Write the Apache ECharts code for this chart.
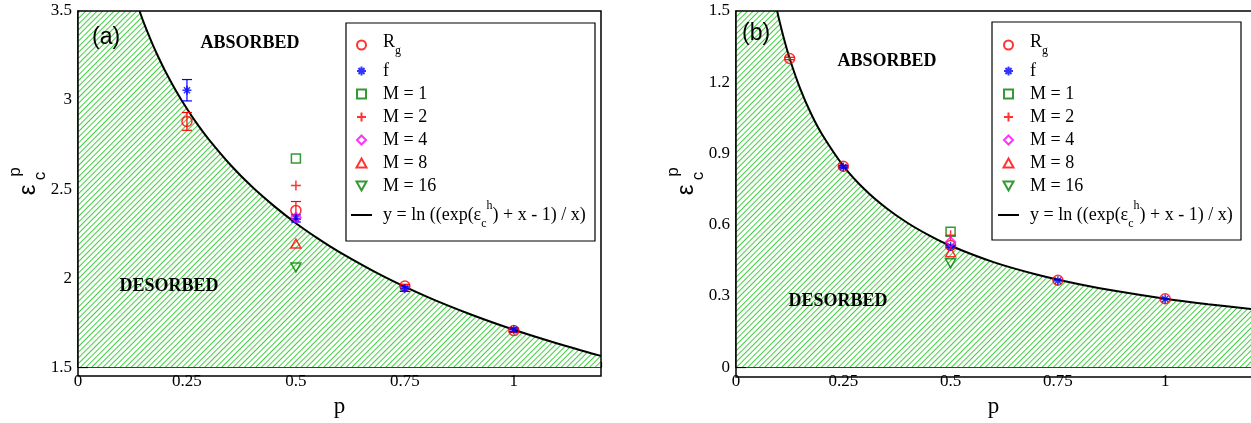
<!DOCTYPE html>
<html>
<head>
<meta charset="utf-8">
<script src="https://cdn.jsdelivr.net/npm/echarts@6/dist/echarts.min.js"></script>
<style>
html,body{margin:0;padding:0;background:#fff;}
#chart{width:1251px;height:423px;}
</style>
</head>
<body>
<div id="chart"></div>
<script>
// ---------- data ----------
const xTicks = [0, 0.25, 0.5, 0.75, 1];
const xRange = [0, 1.2];
const yTicksA = [1.5, 2, 2.5, 3, 3.5];
const yTicksB = [0, 0.3, 0.6, 0.9, 1.2, 1.5];

const seriesNames = ['R_g', 'f', 'M = 1', 'M = 2', 'M = 4', 'M = 8', 'M = 16', 'y = ln ((exp(ε_c^h) + x - 1) / x)'];

// panel (a) boundary curve
const curveA_p = [0.1412, 0.15, 0.16, 0.17, 0.18, 0.2, 0.225, 0.25, 0.275, 0.3, 0.35, 0.4, 0.45, 0.5, 0.55, 0.6, 0.7, 0.8, 0.9, 1.0, 1.1, 1.2];
const curveA_y = [3.500, 3.440, 3.378, 3.319, 3.264, 3.163, 3.051, 2.951, 2.860, 2.779, 2.635, 2.511, 2.404, 2.308, 2.223, 2.146, 2.011, 1.896, 1.797, 1.710, 1.633, 1.563];
// panel (b) boundary curve
const curveB_p = [0.0959, 0.1, 0.11, 0.125, 0.15, 0.175, 0.2, 0.25, 0.3, 0.35, 0.4, 0.45, 0.5, 0.6, 0.7, 0.8, 0.9, 1.0, 1.1, 1.2];
const curveB_y = [1.500, 1.467, 1.395, 1.300, 1.171, 1.067, 0.982, 0.848, 0.748, 0.670, 0.607, 0.555, 0.511, 0.442, 0.390, 0.349, 0.316, 0.288, 0.265, 0.245];

// panel (a) points
const rgA  = [[0.25, 2.88], [0.5, 2.38], [0.75, 1.955], [1.0, 1.705]];
const fA   = [[0.25, 3.055], [0.5, 2.335], [0.75, 1.94], [1.0, 1.71]];
const m1A  = [[0.5, 2.672]];
const m2A  = [[0.5, 2.52]];
const m4A  = [[0.5, 2.34]];
const m8A  = [[0.5, 2.194]];
const m16A = [[0.5, 2.06]];
const rgErrA = [[0.25, 2.83, 2.93], [0.5, 2.33, 2.43], [0.75, 1.945, 1.965], [1.0, 1.695, 1.715]];
const fErrA  = [[0.25, 2.995, 3.115], [0.5, 2.315, 2.355], [0.75, 1.925, 1.955], [1.0, 1.70, 1.72]];

// panel (b) points
const rgB  = [[0.125, 1.30], [0.25, 0.846], [0.5, 0.512], [0.75, 0.366], [1.0, 0.288]];
const fB   = [[0.25, 0.843], [0.5, 0.508], [0.75, 0.364], [1.0, 0.287]];
const m1B  = [[0.5, 0.570]];
const m2B  = [[0.5, 0.555]];
const m4B  = [[0.5, 0.527]];
const m8B  = [[0.5, 0.484]];
const m16B = [[0.5, 0.437]];
const rgErrB = [[0.125, 1.295, 1.305], [0.25, 0.842, 0.850]];
const fErrB  = [[0.25, 0.838, 0.848], [0.5, 0.503, 0.513]];

// ---------- styling ----------
const SERIF = '"Liberation Serif", "Times New Roman", serif';
const SANS = '"Liberation Sans", Arial, sans-serif';
const RED = '#ff0000', BLUE = '#0000ff', GREEN = '#008000', MAG = '#ff00ff';
const HATCH = '#3fd03f';

const SYM = {
  R_g: {symbol: 'circle', color: RED, size: 10},
  f: {symbol: 'path://M5 0L5 10M0 5L10 5M1.6 1.6L8.4 8.4M8.4 1.6L1.6 8.4', color: BLUE, size: 9},
  'M = 1': {symbol: 'path://M0 0L10 0L10 10L0 10Z', color: GREEN, size: 9},
  'M = 2': {symbol: 'path://M5 0L5 10M0 5L10 5', color: RED, size: 10},
  'M = 4': {symbol: 'path://M5 0L10 5L5 10L0 5Z', color: MAG, size: 10},
  'M = 8': {symbol: 'path://M5 0L10 9L0 9Z', color: RED, size: 10},
  'M = 16': {symbol: 'path://M0 0L10 0L5 9Z', color: GREEN, size: 10}
};

function zip(ps, ys) { return ps.map((p, i) => [p, ys[i]]); }

function errItem(params, api) {
  const x = api.value(0);
  const lo = api.coord([x, api.value(1)]);
  const hi = api.coord([x, api.value(2)]);
  const w = 5;
  const style = {stroke: api.visual('color'), lineWidth: 1.2};
  return {type: 'group', children: [
    {type: 'line', shape: {x1: lo[0], y1: lo[1], x2: hi[0], y2: hi[1]}, style},
    {type: 'line', shape: {x1: lo[0] - w, y1: lo[1], x2: lo[0] + w, y2: lo[1]}, style},
    {type: 'line', shape: {x1: hi[0] - w, y1: hi[1], x2: hi[0] + w, y2: hi[1]}, style}
  ]};
}

function panelSeries(k, curveP, curveY, yTop, pts, errRg, errF) {
  const curve = zip(curveP, curveY);
  const out = [];
  out.push({
    type: 'line', xAxisIndex: 2 * k, yAxisIndex: k, data: [[xRange[0], yTop]].concat(curve),
    symbol: 'none', smooth: 0.3, lineStyle: {width: 0, opacity: 0}, z: 1, silent: true,
    areaStyle: {color: '#ffffff', origin: 'start', opacity: 1},
    itemStyle: {color: '#ffffff', decal: {symbol: 'rect', symbolSize: 1, color: HATCH, backgroundColor: '#ffffff',
      dashArrayX: [1, 0], dashArrayY: [1, 2.6], rotation: -Math.PI / 4}}
  });
  out.push({
    type: 'line', name: seriesNames[7], xAxisIndex: 2 * k, yAxisIndex: k, data: curve,
    symbol: 'none', smooth: 0.3, lineStyle: {color: '#000', width: 2}, itemStyle: {color: '#000'}, z: 3
  });
  out.push({type: 'custom', xAxisIndex: 2 * k, yAxisIndex: k, data: errRg, renderItem: errItem, itemStyle: {color: RED}, encode: {x: 0, y: [1, 2]}, z: 4, silent: true});
  out.push({type: 'custom', xAxisIndex: 2 * k, yAxisIndex: k, data: errF, renderItem: errItem, itemStyle: {color: BLUE}, encode: {x: 0, y: [1, 2]}, z: 4, silent: true});
  seriesNames.slice(0, 7).forEach((nm, i) => {
    const s = SYM[nm];
    out.push({
      type: 'scatter', name: nm, xAxisIndex: 2 * k, yAxisIndex: k, data: pts[i],
      symbol: s.symbol, symbolSize: s.size, symbolKeepAspect: true,
      itemStyle: {color: 'transparent', borderColor: s.color, borderWidth: 1.5}, z: 5
    });
  });
  return out;
}

const legendFmt = {
  'R_g': '{a|R}{b|g}',
  'f': '{n|f}',
  'M = 1': '{n|M = 1}',
  'M = 2': '{n|M = 2}',
  'M = 4': '{n|M = 4}',
  'M = 8': '{n|M = 8}',
  'M = 16': '{n|M = 16}',
  'y = ln ((exp(ε_c^h) + x - 1) / x)': '{m0|y = ln ((exp(ε}{c|c}{h|h}{m|) + x - 1) / x)}'
};
const richLegend = {
  a: {fontFamily: SERIF, fontSize: 18, lineHeight: 18, verticalAlign: 'top', padding: [0, 0, 0, 6], color: '#000'},
  b: {fontFamily: SERIF, fontSize: 12, lineHeight: 24, verticalAlign: 'bottom', padding: [12, 0, 0, 0], color: '#000'},
  n: {fontFamily: SERIF, fontSize: 18, lineHeight: 18, padding: [0, 0, 0, 6], color: '#000'},
  m0: {fontFamily: SERIF, fontSize: 18, lineHeight: 18, verticalAlign: 'middle', padding: [0, 0, 0, 6], color: '#000'},
  m: {fontFamily: SERIF, fontSize: 18, lineHeight: 18, verticalAlign: 'middle', color: '#000'},
  c: {fontFamily: SERIF, fontSize: 12, lineHeight: 30, verticalAlign: 'bottom', padding: [18, 0, 0, 0], color: '#000'},
  h: {fontFamily: SERIF, fontSize: 12, lineHeight: 30, verticalAlign: 'top', padding: [0, 0, 18, 0], color: '#000'}
};
function legendAt(left, top) {
  return {
    show: true, orient: 'vertical', left: left, top: top, padding: 0, z: 20,
    itemWidth: 21, itemHeight: 9, itemGap: 5, selectedMode: false,
    data: seriesNames.map(nm => nm === seriesNames[7] ? {name: nm, icon: 'path://M0 0L21 0L21 2L0 2Z'} : nm),
    formatter: nm => legendFmt[nm],
    textStyle: {fontFamily: SERIF, fontSize: 18, lineHeight: 18, color: '#000', rich: richLegend}
  };
}

const axisLabelStyle = {fontFamily: SERIF, fontSize: 17, color: '#000', margin: 6};
function xMajor(gi) {
  return {
    type: 'value', gridIndex: gi, position: 'bottom', min: xRange[0], max: xRange[1], interval: xTicks[1] - xTicks[0],
    axisLine: {show: true, lineStyle: {color: '#000', width: 1.5}},
    axisTick: {show: true, inside: true, length: 10, lineStyle: {color: '#000', width: 1.2}},
    axisLabel: Object.assign({showMaxLabel: false, formatter: v => String(v)}, axisLabelStyle),
    splitLine: {show: false},
    name: 'p', nameLocation: 'middle', nameGap: 18,
    nameTextStyle: {fontFamily: SERIF, fontSize: 23, color: '#000', verticalAlign: 'top'}
  };
}
function xMinor(gi) {
  return {
    type: 'value', gridIndex: gi, position: 'bottom', min: xRange[0], max: xRange[1], interval: (xTicks[1] - xTicks[0]) / 2,
    axisLine: {show: false}, axisLabel: {show: false}, splitLine: {show: false},
    axisTick: {show: true, inside: true, length: 5, lineStyle: {color: '#000', width: 1.2}}
  };
}
function yAx(gi, ticks) {
  return {
    type: 'value', gridIndex: gi, min: ticks[0], max: ticks[ticks.length - 1], interval: ticks[1] - ticks[0],
    axisLine: {show: true, lineStyle: {color: '#000', width: 1.5}},
    axisTick: {show: true, inside: true, length: 10, lineStyle: {color: '#000', width: 1.2}},
    minorTick: {show: true, splitNumber: 2, length: 5, lineStyle: {color: '#000', width: 1.2}},
    axisLabel: Object.assign({formatter: v => String(+v.toFixed(2))}, axisLabelStyle),
    splitLine: {show: false}
  };
}

const GA = {left: 78, top: 11, width: 523, height: 365};
const GB = {left: 736, top: 11, width: 522, height: 366};

function yTitle(x0, y0) {
  return [
    {type: 'text', x: x0, y: y0, rotation: Math.PI / 2, style: {text: 'ε', font: '24px ' + SANS, fill: '#000', align: 'center', verticalAlign: 'middle'}},
    {type: 'text', x: x0 + 12, y: y0 - 14, rotation: Math.PI / 2, style: {text: 'c', font: '17px ' + SANS, fill: '#000', align: 'center', verticalAlign: 'middle'}},
    {type: 'text', x: x0 - 13, y: y0 - 18, rotation: Math.PI / 2, style: {text: 'p', font: '17px ' + SANS, fill: '#000', align: 'center', verticalAlign: 'middle'}}
  ];
}
function tag(text, x, y) {
  return {type: 'text', x: x, y: y, z: 50, style: {text: text, font: 'bold 18px ' + SERIF, fill: '#000', align: 'center', verticalAlign: 'middle'}};
}

const graphics = [
  {type: 'rect', z: 100, shape: {x: GA.left, y: GA.top, width: GA.width, height: GA.height}, style: {fill: 'none', stroke: '#000', lineWidth: 1.5}, silent: true},
  {type: 'rect', z: 100, shape: {x: GB.left, y: GB.top, width: GB.width, height: GB.height}, style: {fill: 'none', stroke: '#000', lineWidth: 1.5}, silent: true},
  {type: 'rect', z: 60, shape: {x: 346, y: 23, width: 249, height: 218}, style: {fill: 'none', stroke: '#000', lineWidth: 1.2}, silent: true},
  {type: 'rect', z: 60, shape: {x: 992, y: 22, width: 249, height: 218}, style: {fill: 'none', stroke: '#000', lineWidth: 1.2}, silent: true},
  {type: 'text', x: 92, y: 38, z: 50, style: {text: '(a)', font: '23px ' + SANS, fill: '#000', align: 'left', verticalAlign: 'middle'}},
  {type: 'text', x: 742, y: 34, z: 50, style: {text: '(b)', font: '23px ' + SANS, fill: '#000', align: 'left', verticalAlign: 'middle'}},
  tag('ABSORBED', 250, 43), tag('DESORBED', 169, 286),
  tag('ABSORBED', 887, 61), tag('DESORBED', 838, 301)
].concat(yTitle(28, 190), yTitle(686, 190));

const chart = echarts.init(document.getElementById('chart'), null, {renderer: 'canvas'});
chart.setOption({
  animation: false,
  backgroundColor: '#fff',
  grid: [GA, GB],
  xAxis: [xMajor(0), xMinor(0), xMajor(1), xMinor(1)],
  yAxis: [yAx(0, yTicksA), yAx(1, yTicksB)],
  legend: [legendAt(351, 33), legendAt(998, 33)],
  graphic: graphics,
  series: panelSeries(0, curveA_p, curveA_y, yTicksA[yTicksA.length - 1], [rgA, fA, m1A, m2A, m4A, m8A, m16A], rgErrA, fErrA)
    .concat(panelSeries(1, curveB_p, curveB_y, yTicksB[yTicksB.length - 1], [rgB, fB, m1B, m2B, m4B, m8B, m16B], rgErrB, fErrB))
});
</script>
</body>
</html>
